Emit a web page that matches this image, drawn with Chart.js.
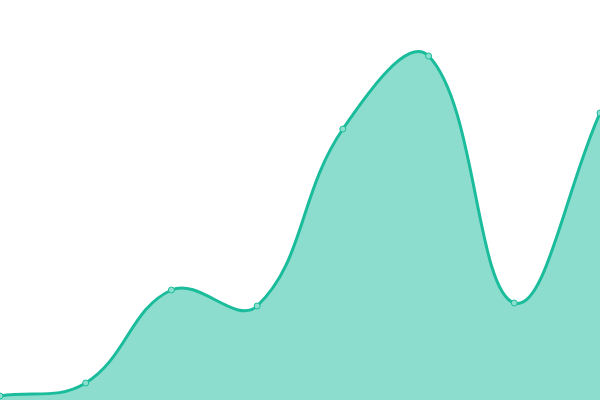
<!DOCTYPE html>
<html><head><meta charset="utf-8">
<script src="https://cdn.jsdelivr.net/npm/chart.js@4/dist/chart.umd.min.js"></script>
<style>html,body{margin:0;padding:0;background:#fff}#w{width:600px;height:400px}</style>
</head><body><div id="w"><canvas id="c"></canvas></div>
<script>
const categories = ["A","B","C","D","E","F","G","H"];
const values = [1, 4.25, 27.5, 23.5, 67.75, 86, 24.25, 71.75];

new Chart(document.getElementById('c'), {
  type: 'line',
  data: {
    labels: categories,
    datasets: [{
      data: values,
      fill: true,
      tension: 0.4,
      borderColor: '#1abc9c',
      backgroundColor: 'rgba(26,188,156,0.5)',
      borderWidth: 3,
      pointRadius: 3,
      pointBorderWidth: 1,
      pointBackgroundColor: 'rgba(140,222,206,1)',
      pointBorderColor: '#1abc9c'
    }]
  },
  options: {
    responsive: true,
    maintainAspectRatio: false,
    animation: false,
    layout: { padding: 0, autoPadding: false },
    plugins: { legend: { display: false }, tooltip: { enabled: false } },
    scales: {
      x: { display: false, offset: false },
      y: { display: false, min: 0, max: 100 }
    }
  }
});
</script></body></html>
